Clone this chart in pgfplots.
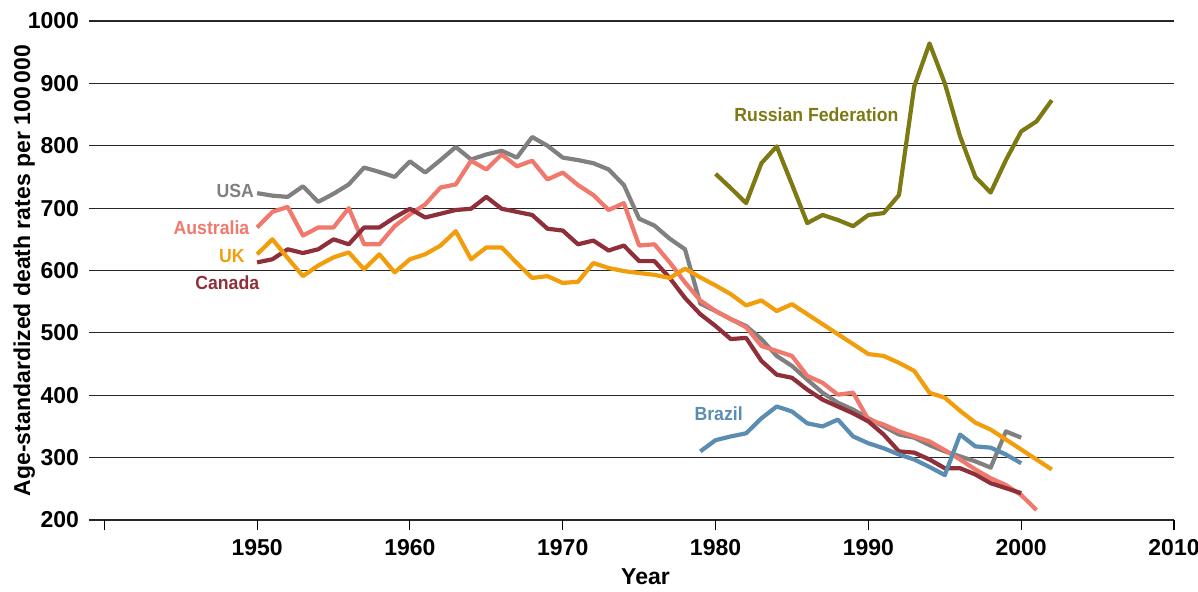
\documentclass[border=0pt]{standalone}
\usepackage{fontspec}
\setmainfont{Liberation Sans}
\newfontfamily\lab{Liberation Sans}[FakeStretch=0.93]
\usepackage{pgfplots}
\pgfplotsset{compat=1.18}
\definecolor{cusa}{HTML}{808080}
\definecolor{caus}{HTML}{F0786C}
\definecolor{cuk}{HTML}{F29E0C}
\definecolor{ccan}{HTML}{8E2F3A}
\definecolor{cbra}{HTML}{5B8DB3}
\definecolor{crus}{HTML}{7D7A14}
\begin{document}
\begin{tikzpicture}
\useasboundingbox (-89pt,-71pt) rectangle (1109pt,520pt);
\begin{axis}[
  at={(0,0)}, anchor=south west,
  scale only axis, width=1085pt, height=499pt,
  xmin=1939, xmax=2010, ymin=200, ymax=1000,
  xtick={1940,1950,...,2010},
  xticklabels={{},1950,1960,1970,1980,1990,2000,2010},
  ytick={200,300,...,1000},
  ymajorgrids, grid style={black!85, line width=1.1pt},
  axis line style={draw=none},
  xtick pos=bottom, ytick pos=left,
  tick align=outside, major tick length=10pt,
  xtick style={black, line width=1.1pt},
  ytick style={draw=none},
  tick label style={font=\bfseries\fontsize{23}{26}\selectfont},
  yticklabel style={xshift=3.5pt},
  xticklabel style={yshift=-6pt},
  /pgf/number format/assume math mode=true,
  /pgf/number format/1000 sep={},
  label style={font=\bfseries\fontsize{23}{27}\selectfont},
  xlabel={Year},
  xlabel style={yshift=-6pt, xshift=14pt},
  ylabel={Age-standardized death rates per 100\,000},
  ylabel shift={-14pt},
  every axis plot/.append style={line width=4.2pt, line join=round, no markers},
]
\addplot[cusa] coordinates {
(1950,724)(1951,720)(1952,718)(1953,735)(1954,710)(1955,723)(1956,738)(1957,765)(1958,758)(1959,750)
(1960,775)(1961,757)(1962,777)(1963,798)(1964,778)(1965,786)(1966,792)(1967,781)(1968,814)(1969,800)
(1970,781)(1971,777)(1972,772)(1973,762)(1974,737)(1975,683)(1976,672)(1977,651)(1978,634)(1979,547)
(1980,535)(1981,522)(1982,511)(1983,490)(1984,463)(1985,447)(1986,425)(1987,404)(1988,388)(1989,377)
(1990,363)(1991,350)(1992,337)(1993,332)(1994,320)(1995,310)(1996,302)(1997,294)(1998,284)(1999,342)(2000,332)
};
\addplot[caus] coordinates {
(1950,669)(1951,694)(1952,702)(1953,656)(1954,669)(1955,669)(1956,700)(1957,642)(1958,642)(1959,671)
(1960,690)(1961,706)(1962,733)(1963,738)(1964,776)(1965,762)(1966,786)(1967,767)(1968,776)(1969,746)
(1970,757)(1971,737)(1972,721)(1973,697)(1974,708)(1975,640)(1976,642)(1977,613)(1978,581)(1979,552)
(1980,535)(1981,522)(1982,509)(1983,479)(1984,471)(1985,463)(1986,431)(1987,420)(1988,401)(1989,404)
(1990,361)(1991,353)(1992,342)(1993,334)(1994,326)(1995,312)(1996,297)(1997,281)(1998,267)(1999,256)(2000,240)(2001,216)
};
\addplot[ccan] coordinates {
(1950,613)(1951,618)(1952,634)(1953,628)(1954,634)(1955,650)(1956,642)(1957,669)(1958,669)(1959,685)
(1960,699)(1961,685)(1962,691)(1963,697)(1964,699)(1965,718)(1966,699)(1967,694)(1968,689)(1969,667)
(1970,664)(1971,642)(1972,648)(1973,632)(1974,640)(1975,615)(1976,615)(1977,588)(1978,556)(1979,530)
(1980,511)(1981,490)(1982,492)(1983,455)(1984,433)(1985,428)(1986,409)(1987,393)(1988,382)(1989,371)
(1990,358)(1991,337)(1992,310)(1993,308)(1994,297)(1995,283)(1996,283)(1997,273)(1998,259)(1999,251)(2000,243)
};
\addplot[cuk] coordinates {
(1950,626)(1951,650)(1952,620)(1953,591)(1954,608)(1955,621)(1956,629)(1957,602)(1958,626)(1959,597)
(1960,618)(1961,626)(1962,640)(1963,663)(1964,618)(1965,637)(1966,637)(1967,612)(1968,588)(1969,591)
(1970,580)(1971,582)(1972,612)(1973,604)(1974,599)(1975,596)(1976,593)(1977,588)(1978,603)(1979,589)
(1980,576)(1981,562)(1982,544)(1983,552)(1984,535)(1985,546)(1986,530)(1987,514)(1988,498)(1989,482)
(1990,466)(1991,463)(1992,452)(1993,439)(1994,404)(1995,396)(1996,375)(1997,356)(1998,345)(1999,329)
(2000,313)(2001,297)(2002,281)
};
\addplot[cbra] coordinates {
(1979,310)(1980,328)(1981,334)(1982,339)(1983,363)(1984,382)(1985,374)(1986,355)(1987,350)(1988,361)
(1989,334)(1990,323)(1991,315)(1992,305)(1993,297)(1994,285)(1995,272)(1996,337)(1997,318)(1998,316)
(1999,305)(2000,291)
};
\addplot[crus] coordinates {
(1980,755)(1981,732)(1982,708)(1983,772)(1984,799)(1985,738)(1986,676)(1987,689)(1988,681)(1989,671)
(1990,689)(1991,692)(1992,721)(1993,895)(1994,964)(1995,900)(1996,815)(1997,750)(1998,725)(1999,777)
(2000,823)(2001,839)(2002,873)
};
\node[anchor=east, text=cusa, font=\lab\bfseries\fontsize{19}{22}\selectfont, inner sep=0pt] at (axis cs:1949.8,727) {USA};
\node[anchor=east, text=caus, font=\lab\bfseries\fontsize{19}{22}\selectfont, inner sep=0pt] at (axis cs:1949.5,668) {Australia};
\node[anchor=east, text=cuk, font=\lab\bfseries\fontsize{19}{22}\selectfont, inner sep=0pt] at (axis cs:1949.2,623) {UK};
\node[anchor=east, text=ccan, font=\lab\bfseries\fontsize{19}{22}\selectfont, inner sep=0pt] at (axis cs:1950.15,580) {Canada};
\node[text=cbra, font=\lab\bfseries\fontsize{19}{22}\selectfont, inner sep=0pt] at (axis cs:1980.2,370) {Brazil};
\node[text=crus, font=\lab\bfseries\fontsize{19}{22}\selectfont, inner sep=0pt] at (axis cs:1986.6,850) {Russian Federation};
\end{axis}
\end{tikzpicture}
\end{document}
